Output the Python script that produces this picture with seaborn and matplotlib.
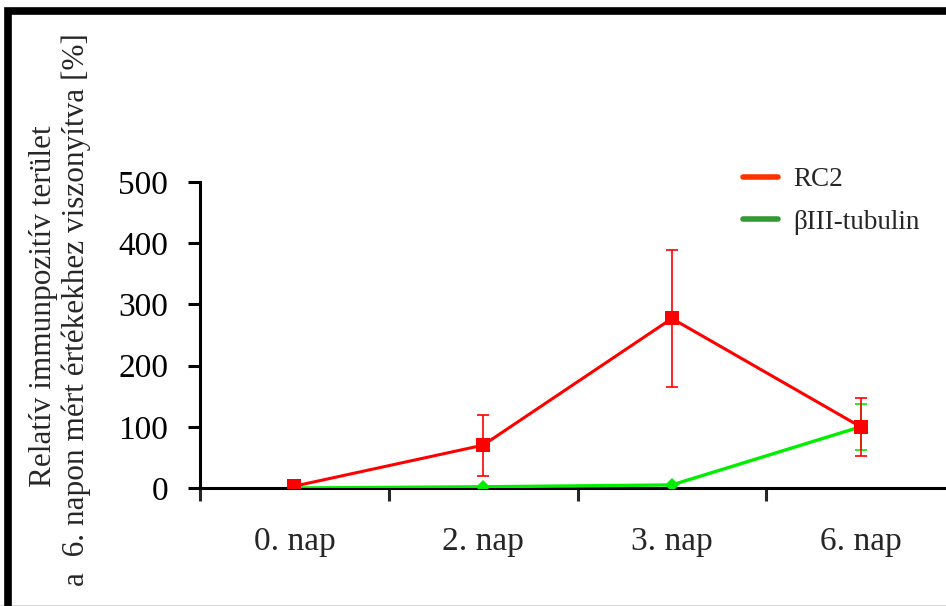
import numpy as np
import pandas as pd
import matplotlib
matplotlib.use("Agg")
import matplotlib.pyplot as plt
import seaborn as sns
from matplotlib.lines import Line2D
from matplotlib.patches import Rectangle

# data
days = ["0. nap", "2. nap", "3. nap", "6. nap"]
rc2_mean = [3, 70, 277, 100]
rc2_err = [0, 50, 112, 47]
tub_mean = [0, 2, 5, 100]
tub_err = [0, 0, 0, 38]

sns.set_theme(style="white")
plt.rcParams['font.family'] = ['Liberation Serif', 'DejaVu Serif']

pos = np.arange(len(days)) + 0.5
df = pd.DataFrame({
    "pos": np.concatenate([pos, pos]),
    "value": rc2_mean + tub_mean,
    "series": ["RC2"] * 4 + ["βIII-tubulin"] * 4,
})

fig = plt.figure(figsize=(9.46, 6.06), dpi=100)
ax = fig.add_axes([200 / 946, 118 / 606, 755 / 946, 306 / 606])

# green first so red sits on top
ax.errorbar(pos, tub_mean, yerr=tub_err, fmt="none", ecolor="#00ee00",
            elinewidth=1.2, capsize=4, capthick=1.2, zorder=2)
sns.lineplot(data=df[df.series == "βIII-tubulin"], x="pos", y="value", ax=ax,
             color="#00ee00", lw=2.4, marker="D", markersize=7,
             markeredgewidth=0, legend=False, zorder=3)
ax.errorbar(pos, rc2_mean, yerr=rc2_err, fmt="none", ecolor="#ff0000",
            elinewidth=1.2, capsize=4, capthick=1.2, zorder=4)
sns.lineplot(data=df[df.series == "RC2"], x="pos", y="value", ax=ax,
             color="#ff0000", lw=2.2, marker="s", markersize=10,
             markeredgewidth=0, legend=False, zorder=5)

ax.set_xlim(0, 4)
ax.set_ylim(0, 500)
ax.set_xlabel("")
ax.set_ylabel("")
ax.set_yticks([0, 100, 200, 300, 400, 500])
ax.set_xticks([0, 1, 2, 3, 4])
ax.set_xticklabels([])
ax.set_xticks(pos, minor=True)
ax.set_xticklabels(days, minor=True)
ax.tick_params(axis="y", direction="out", length=9, width=2.2, labelsize=24,
               pad=14, left=True, colors="black")
ax.tick_params(axis="x", which="major", direction="out", length=9, width=2.2,
               bottom=True)
ax.tick_params(axis="x", which="minor", length=0, labelsize=24, pad=28)
for s in ["top", "right"]:
    ax.spines[s].set_visible(False)
for s in ["left", "bottom"]:
    ax.spines[s].set_linewidth(2.2)
    ax.spines[s].set_color("black")
ax.spines["left"].set_bounds(0, 500)
ax.set_facecolor("none")

handles = [Line2D([], [], color="#ff3300", lw=4),
           Line2D([], [], color="#339933", lw=4)]
fig.legend(handles, ["RC2", "βIII-tubulin"], loc="upper left",
           bbox_to_anchor=(743 / 946, 1 - 167 / 606), frameon=False,
           fontsize=19.5, handlelength=1.3, handletextpad=0.55,
           labelspacing=0.65, borderpad=0, borderaxespad=0)

fig.text(43 / 946, 1 - 306 / 606, "Relatív immunpozitív terület",
         rotation=90, ha="center", va="center", fontsize=22.5)
fig.text(76 / 946, 1 - 310 / 606, "a  6. napon mért értékekhez viszonyítva [%]",
         rotation=90, ha="center", va="center", fontsize=22.5)

# outer frame
fig.patches.append(Rectangle((8 / 946, -0.05), 1.2, 1 - 11 / 606 + 0.05,
                             transform=fig.transFigure, fill=False,
                             edgecolor="black", lw=5.5, zorder=0))
fig.lines.append(Line2D([0, 1], [0.5 / 606, 0.5 / 606], transform=fig.transFigure,
                        color="#333333", lw=1))

fig.savefig("out.png", dpi=100)
